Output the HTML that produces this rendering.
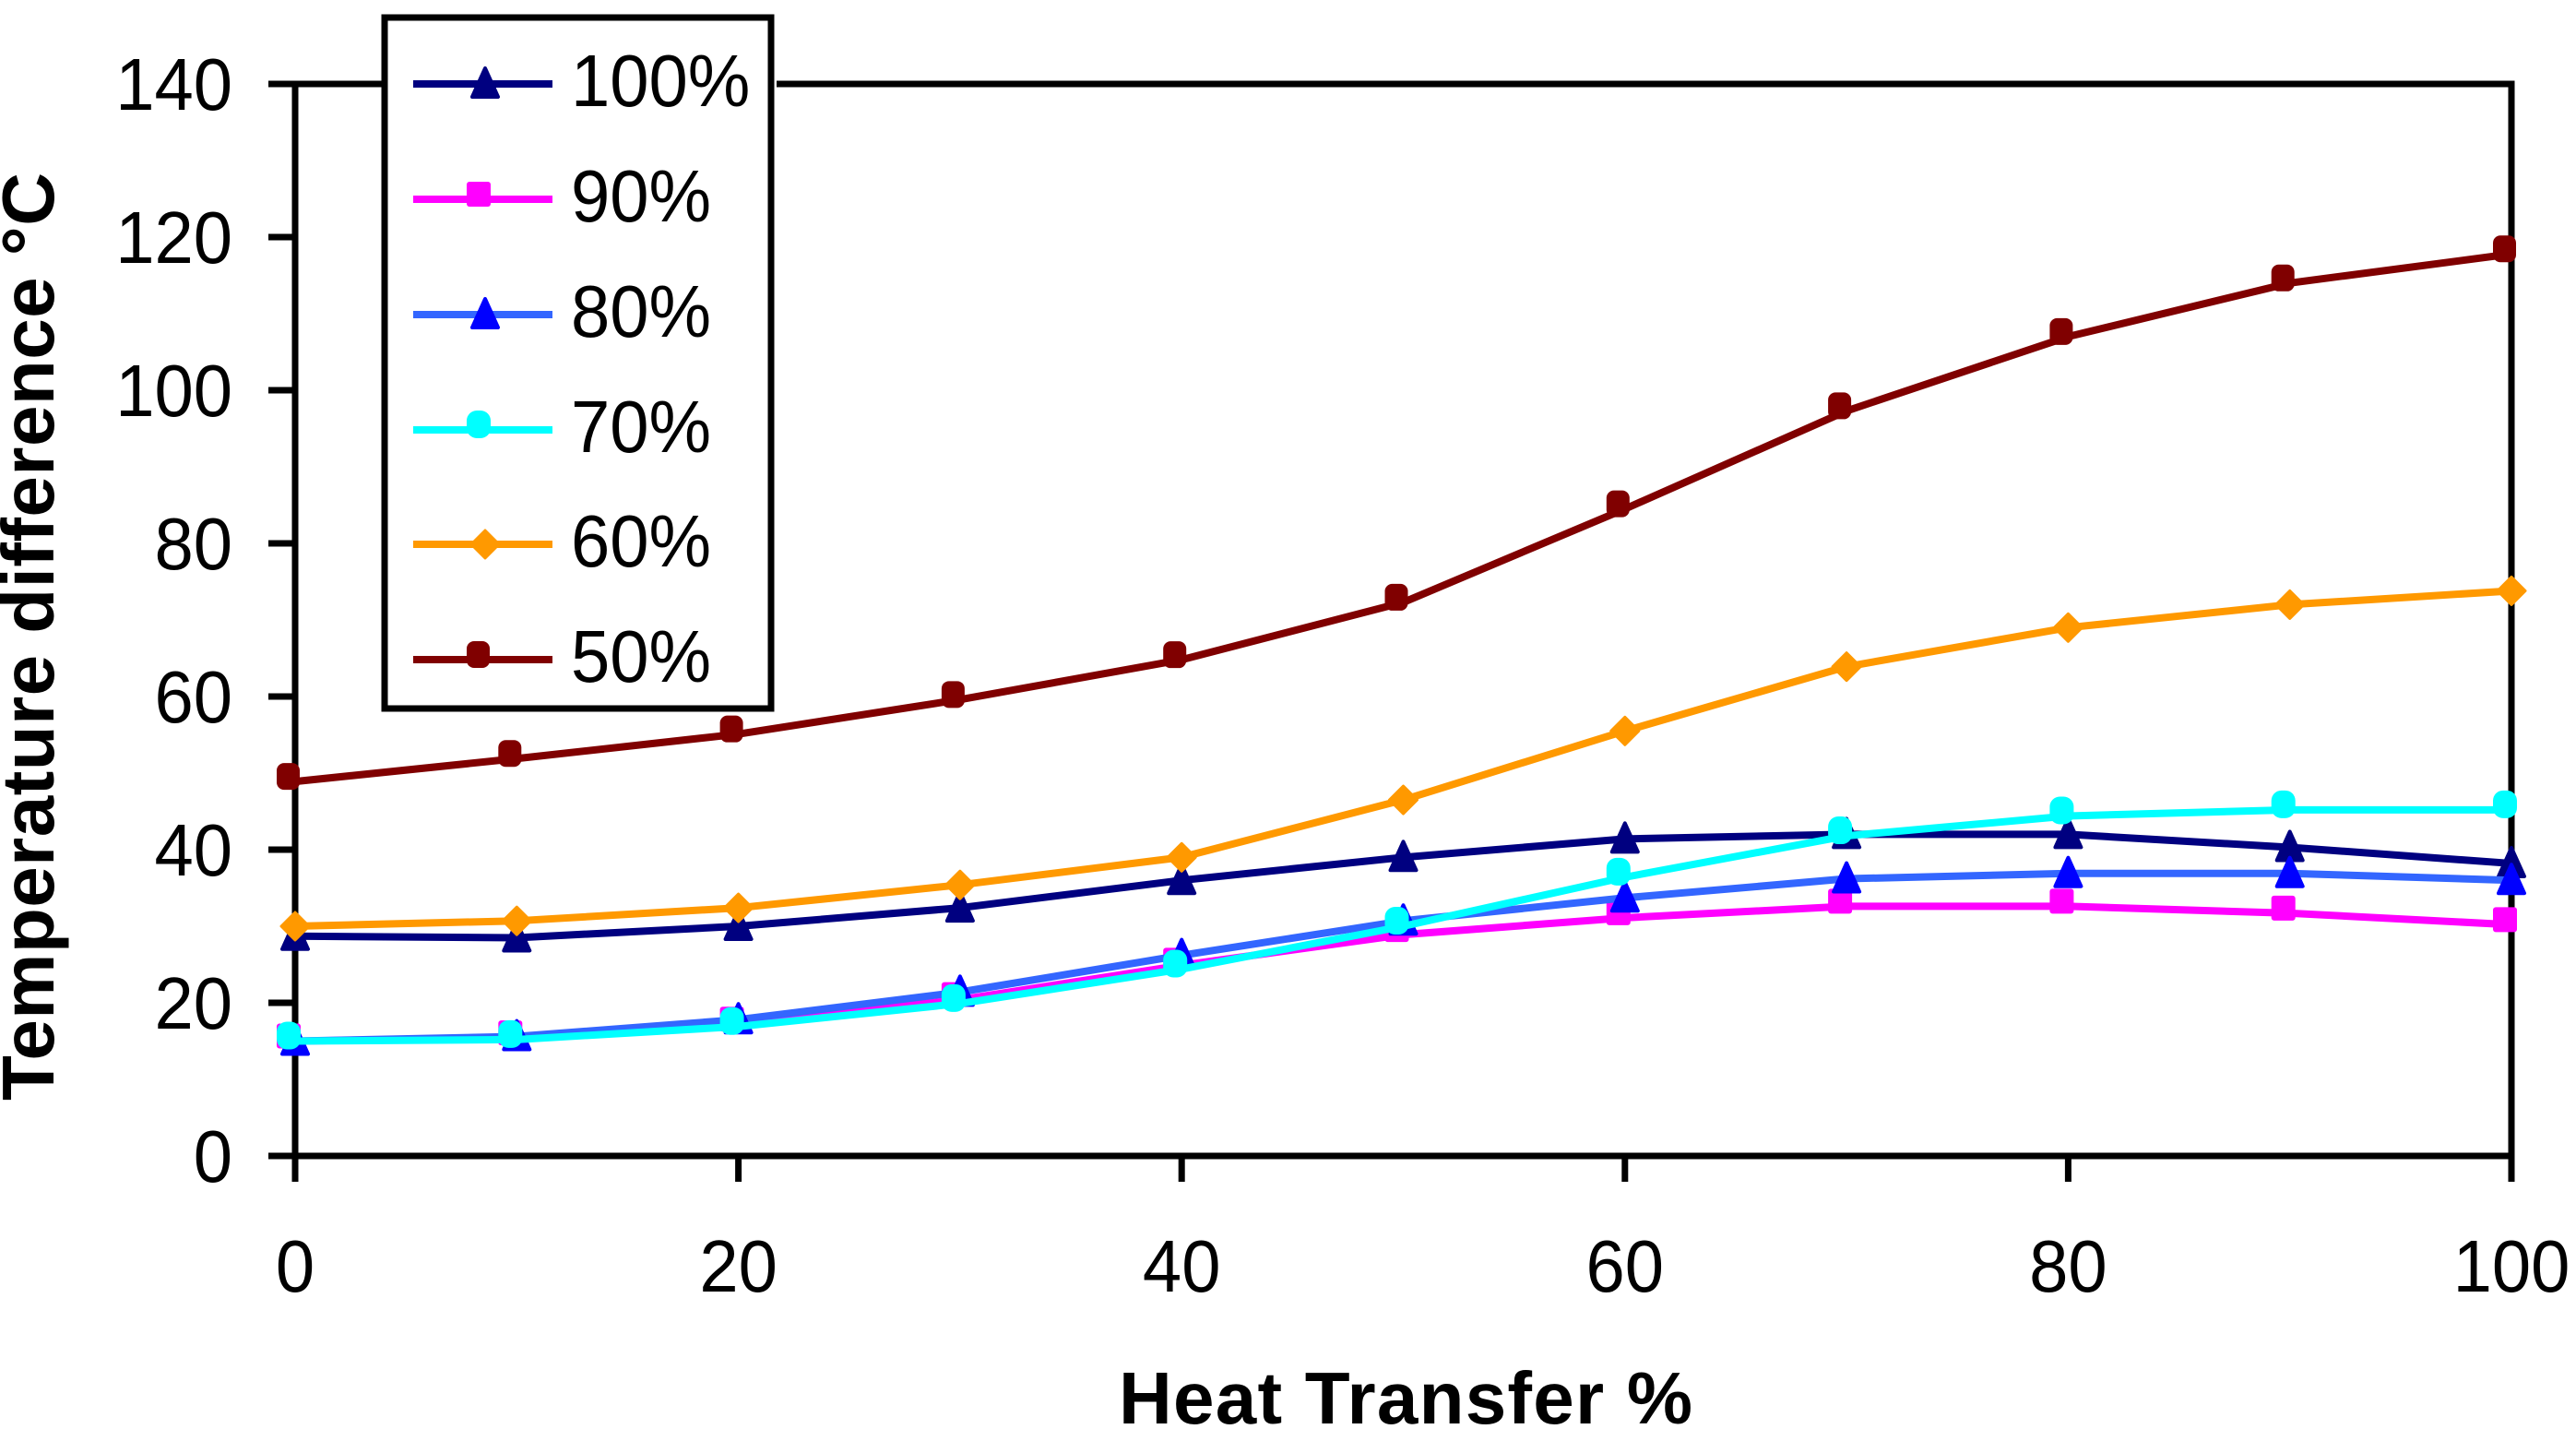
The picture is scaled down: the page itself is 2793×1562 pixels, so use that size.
<!DOCTYPE html>
<html lang="en">
<head>
<meta charset="utf-8">
<title>Temperature difference vs heat transfer</title>
<style>
html,body{margin:0;padding:0;background:#fff;}
svg{display:block;}
text{font-family:"Liberation Sans",Arial,sans-serif;fill:#000;}
</style>
</head>
<body>
<svg id="chart" xmlns="http://www.w3.org/2000/svg" width="2793" height="1562" viewBox="0 0 2793 1562">
  <rect x="0" y="0" width="2793" height="1562" fill="#fff"/>
  <g id="axes"></g>
  <g id="series"></g>
  <text transform="translate(58,1193) rotate(-90)" font-size="80" font-weight="700" textLength="1006" lengthAdjust="spacing">Temperature difference °C</text>
  <text x="1213" y="1543" font-size="80" font-weight="700" textLength="622" lengthAdjust="spacing">Heat Transfer %</text>
  <g id="legend">
    <rect x="416" y="16" width="426" height="756" fill="#fff"/>
    <rect x="417" y="19" width="419" height="749" fill="#fff" stroke="#000" stroke-width="7"/>
    <text transform="translate(619,115) scale(0.95,1)" font-size="80">100%</text>
    <text transform="translate(619,240) scale(0.95,1)" font-size="80">90%</text>
    <text transform="translate(619,365) scale(0.95,1)" font-size="80">80%</text>
    <text transform="translate(619,490) scale(0.95,1)" font-size="80">70%</text>
    <text transform="translate(619,614) scale(0.95,1)" font-size="80">60%</text>
    <text transform="translate(619,739) scale(0.95,1)" font-size="80">50%</text>
  </g>
</svg>
<script>
const xCategories = [0, 10, 20, 30, 40, 50, 60, 70, 80, 90, 100];
const xTickLabels = [0, 20, 40, 60, 80, 100];
const yTickLabels = [0, 20, 40, 60, 80, 100, 120, 140];
const seriesNames = ['100%', '90%', '80%', '70%', '60%', '50%'];
const values100 = [28.7, 28.5, 30, 32.4, 36, 39, 41.4, 42, 42, 40.3, 38.2];
const values90 = [15, 15.4, 17.2, 20.4, 24.9, 28.9, 31.1, 32.6, 32.6, 31.7, 30.2];
const values80 = [15, 15.6, 17.8, 21.4, 26.2, 30.7, 33.7, 36.2, 36.9, 36.9, 36];
const values70 = [15, 15.2, 16.9, 19.9, 24.4, 30, 36.4, 41.8, 44.4, 45.2, 45.2];
const values60 = [30, 30.7, 32.4, 35.4, 39, 46.5, 55.5, 63.9, 69, 72, 73.8];
const values50 = [48.9, 51.9, 55.1, 59.6, 64.8, 72.3, 84.5, 97.3, 107, 114, 117.8];

const NS = 'http://www.w3.org/2000/svg';
const plot = { left: 320, right: 2723, top: 91, bottom: 1253, xMax: 100, yMax: 140 };
const xScale = v => plot.left + (v / plot.xMax) * (plot.right - plot.left);
const yScale = v => plot.bottom - (v / plot.yMax) * (plot.bottom - plot.top);

function make(tag, attrs, parent) {
  const el = document.createElementNS(NS, tag);
  for (const k in attrs) el.setAttribute(k, attrs[k]);
  parent.appendChild(el);
  return el;
}

const axes = document.getElementById('axes');
const lineStyle = { stroke: '#000', 'stroke-width': 7, fill: 'none' };

const frame = make('rect', { x: plot.left, y: plot.top, width: plot.right - plot.left, height: plot.bottom - plot.top, stroke: '#000', 'stroke-width': 7, fill: 'none' }, axes);



yTickLabels.forEach(v => {
  const tick = make('line', Object.assign({ x1: 291, x2: plot.left, y1: yScale(v), y2: yScale(v) }, lineStyle), axes);
  
  
  const label = make('text', { transform: `translate(252,${yScale(v) + 28}) scale(0.95,1)`, 'text-anchor': 'end', 'font-size': 80 }, axes);
  label.textContent = v;
  
  
});

xTickLabels.forEach(v => {
  const tick = make('line', Object.assign({ x1: xScale(v), x2: xScale(v), y1: plot.bottom, y2: 1281 }, lineStyle), axes);
  
  
  const label = make('text', { transform: `translate(${xScale(v)},1400) scale(0.95,1)`, 'text-anchor': 'middle', 'font-size': 80 }, axes);
  label.textContent = v;
  
  
});

function drawMarker(parent, kind, cx, cy, color) {
  if (kind === 'triangle') {
    return make('path', { d: `M${cx} ${cy - 17}L${cx + 14} ${cy + 14}L${cx - 14} ${cy + 14}Z`, fill: color, stroke: color, 'stroke-width': 4, 'stroke-linejoin': 'round' }, parent);
  }
  if (kind === 'diamond') {
    return make('path', { d: `M${cx} ${cy - 15}L${cx + 15} ${cy}L${cx} ${cy + 15}L${cx - 15} ${cy}Z`, fill: color, stroke: color, 'stroke-width': 3, 'stroke-linejoin': 'round' }, parent);
  }
  if (kind === 'square') {
    return make('rect', { x: cx - 20, y: cy - 19, width: 26, height: 27, rx: 3, fill: color }, parent);
  }
  if (kind === 'blob') {
    return make('rect', { x: cx - 20, y: cy - 20, width: 25, height: 29, rx: 8, fill: color }, parent);
  }
  return make('rect', { x: cx - 20, y: cy - 21, width: 26, height: 30, rx: 11, fill: color }, parent);
}

const seriesValues = [values100, values90, values80, values70, values60, values50];
const seriesLineColors = ['#000080', '#ff00ff', '#3366ff', '#00ffff', '#ff9900', '#800000'];
const seriesMarkerColors = ['#000080', '#ff00ff', '#0000ff', '#00ffff', '#ff9900', '#800000'];
const seriesMarkers = ['triangle', 'square', 'triangle', 'circle', 'diamond', 'blob'];

const seriesGroup = document.getElementById('series');
seriesNames.forEach((name, i) => {
  const slug = name.replace('%', '');
  const g = make('g', {}, seriesGroup);
  
  
  const pts = xCategories.map((x, j) => xScale(x) + ',' + yScale(seriesValues[i][j])).join(' ');
  const line = make('polyline', { points: pts, fill: 'none', stroke: seriesLineColors[i], 'stroke-width': 8, 'stroke-linejoin': 'round' }, g);
  
  
  xCategories.forEach((x, j) => {
    const m = drawMarker(g, seriesMarkers[i], xScale(x), yScale(seriesValues[i][j]), seriesMarkerColors[i]);
    
    
  });
});

const legend = document.getElementById('legend');
const legendRowY = [91, 216, 341, 466, 590, 715];
seriesNames.forEach((name, i) => {
  const slug = name.replace('%', '');
  const sample = make('line', { x1: 448, x2: 599, y1: legendRowY[i], y2: legendRowY[i], stroke: seriesLineColors[i], 'stroke-width': 8 }, legend);
  
  
  const mark = drawMarker(legend, seriesMarkers[i], 526, legendRowY[i], seriesMarkerColors[i]);
  
  
});
</script>
</body>
</html>
